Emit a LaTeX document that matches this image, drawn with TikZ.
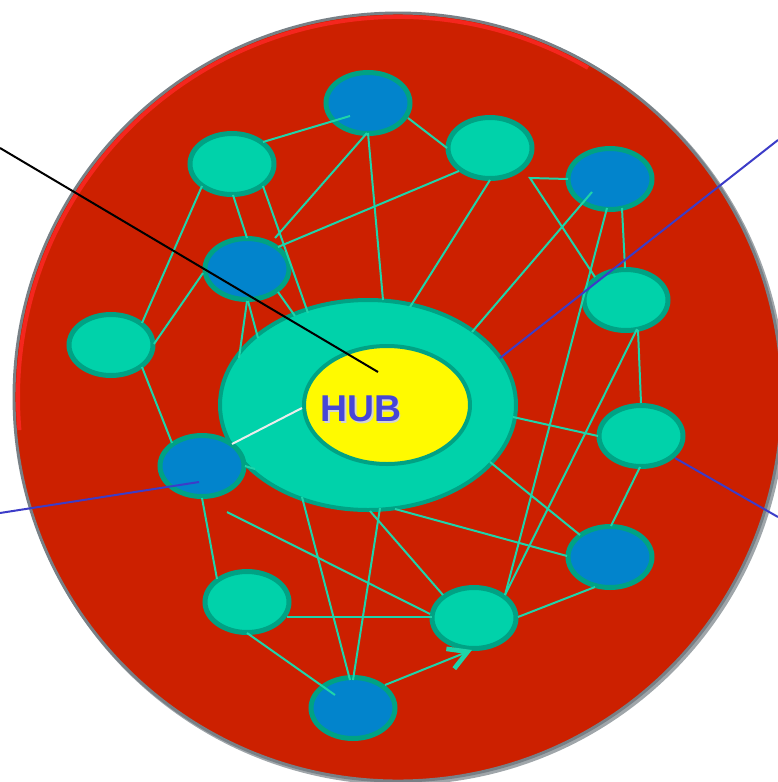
\documentclass[tikz,border=0pt]{standalone}
\usepackage{fontspec}
\setmainfont{Liberation Sans}
\usetikzlibrary{shapes.geometric,calc,arrows.meta}

\definecolor{discred}{RGB}{204,32,0}
\definecolor{discglow}{RGB}{245,38,30}
\definecolor{discrim}{RGB}{120,128,134}
\definecolor{nodegreen}{RGB}{0,210,170}
\definecolor{nodeblue}{RGB}{2,132,204}
\definecolor{rimteal}{RGB}{0,162,132}
\definecolor{linkteal}{RGB}{30,212,170}
\definecolor{hubyellow}{RGB}{255,250,0}
\definecolor{hubtext}{RGB}{70,70,214}
\definecolor{pointerblue}{RGB}{60,60,200}

\begin{document}
\begin{tikzpicture}[x=0.75pt,y=-0.75pt,
  peer/.style={ellipse, draw=rimteal, line width=3.75pt,
    minimum width=63pt, minimum height=45.75pt, inner sep=0pt},
  gnode/.style={peer, fill=nodegreen},
  bnode/.style={peer, fill=nodeblue},
  link/.style={draw=linkteal, line width=1.5pt},
  pointer/.style={line width=1.5pt},
]
\useasboundingbox (0,0) rectangle (778,782);

% the disc with its rim and glow
\fill[discrim!70] (400,399) circle (289.5pt);
\fill[discred] (398,397) circle (288pt);
\draw[discrim, line width=2.2pt] (398,397) circle (288pt);
\draw[discglow, line width=3pt] (398,397) ++(60:285pt)
  arc[start angle=60, end angle=185, radius=285pt];

% hub rings
\node[ellipse, fill=nodegreen, draw=rimteal, line width=3pt,
  minimum width=222pt, minimum height=157.5pt, inner sep=0pt] (hub) at (368,405) {};
\node[ellipse, fill=hubyellow, draw=rimteal, line width=3pt,
  minimum width=124.5pt, minimum height=88.5pt, inner sep=0pt] (core) at (387,405) {};
\node[text=gray!35, inner sep=0pt] (hubshadow) at (362.5,410.5) {\fontsize{28}{30}\selectfont\bfseries HUB};
\node[text=hubtext, inner sep=0pt] (hublabel) at (361,409) {\fontsize{28}{30}\selectfont\bfseries HUB};

% peers
\node[bnode] (b1)  at (368,103) {};
\node[gnode] (g2)  at (232,164) {};
\node[gnode] (g3)  at (490,148) {};
\node[bnode] (b4)  at (610,179) {};
\node[bnode] (b5)  at (247,269) {};
\node[gnode] (g6)  at (626,300) {};
\node[gnode] (g7)  at (111,345) {};
\node[gnode] (g8)  at (641,436) {};
\node[bnode] (b9)  at (202,466) {};
\node[bnode] (b10) at (610,557) {};
\node[gnode] (g11) at (247,602) {};
\node[gnode] (g12) at (474,618) {};
\node[bnode] (b13) at (353,708) {};

% free ends
\coordinate (kink)  at (530,178);
\coordinate (tailA) at (227,512);
\coordinate (ptrNW) at (0,148);
\coordinate (ptrNE) at (778,140);
\coordinate (ptrW)  at (0,513);
\coordinate (ptrE)  at (778,517);

% links
\draw[link] ($(g2)+(31,-22)$) -- ($(b1)+(-18,13)$);
\draw[link] ($(b1)+(-1,30)$) -- ($(b5)+(28,-31)$);
\draw[link] ($(b1)+(0,30)$) -- ($(hub)+(15,-105)$);
\draw[link] ($(g3)+(-31,23)$) -- ($(b5)+(31,-22)$);
\draw[link] ($(g2)+(-30,22)$) -- ($(g7)+(31,-22)$);
\draw[link] ($(g2)+(1,31)$) -- ($(b5)+(0,-31)$);
\draw[link] ($(g2)+(31,22)$) -- ($(hub)+(-60,-92)$);
\draw[link] ($(b5)+(-44,4)$) -- ($(g7)+(43,-1)$);
\draw[link] ($(b5)+(31,23)$) -- ($(hub)+(-73,-89)$);
\draw[link] ($(b5)+(0,32)$) -- ($(hub)+(-129,-47)$);
\draw[link] ($(b5)+(1,32)$) -- ($(hub)+(-110,-67)$);
\draw[link] ($(g7)+(31,22)$) -- ($(b9)+(-30,-23)$);
\draw[link] ($(b1)+(40,15)$) -- ($(g3)+(-43,0)$);
\draw[link] ($(g3)+(0,32)$) -- ($(hub)+(42,-98)$);
\draw[link] ($(b4)+(-18,13)$) -- ($(hub)+(104,-73)$);
\draw[link] ($(g6)+(-31,-23)$) -- (kink) -- ($(b4)+(-42,0)$);
\draw[link] ($(b4)+(-3,29)$) -- ($(g12)+(31,-23)$);
\draw[link] ($(b4)+(12,29)$) -- ($(g6)+(-1,-32)$);
\draw[link] ($(g6)+(11,29)$) -- ($(g12)+(31,-23)$);
\draw[link] ($(g6)+(12,30)$) -- ($(g8)+(0,-33)$);
\draw[link] ($(hub)+(145,12)$) -- ($(g8)+(-43,0)$);
\draw[link] ($(hub)+(122,57)$) -- ($(b10)+(-30,-22)$);
\draw[link] ($(g8)+(-1,31)$) -- ($(b10)+(1,-31)$);
\draw[link] ($(hub)+(27,104)$) -- ($(b10)+(-43,-1)$);
\draw[link] ($(g12)+(44,-1)$) -- ($(b10)+(-15,30)$);
\draw[link, -{Straight Barb[length=14pt, width=16pt, line width=3.5pt]}]
  ($(b13)+(32,-23)$) -- ($(g12)+(-2,32)$);
\draw[link] ($(hub)+(2,106)$) -- ($(g12)+(-31,-23)$);
\draw[link] (tailA) -- ($(g12)+(-44,-4)$);
\draw[link] ($(g11)+(40,15)$) -- ($(g12)+(-42,-1)$);
\draw[link] ($(b13)+(-3,-28)$) -- ($(hub)+(-66,92)$);
\draw[link] ($(b13)+(0,-28)$) -- ($(hub)+(12,103)$);
\draw[link] ($(g11)+(0,31)$) -- ($(b13)+(-18,-13)$);
\draw[link] ($(b9)+(0,32)$) -- ($(g11)+(-30,-23)$);
\draw[link] ($(b9)+(43,0)$) -- ($(hub)+(-113,64)$);
\draw[draw=gray!15, line width=1.5pt] ($(b9)+(30,-22)$) -- ($(core)+(-85,3)$);

% pointers
\draw[pointer, black] (ptrNW) -- ($(core)+(-9,-33)$);
\draw[pointer, pointerblue] (ptrNE) -- ($(hub)+(132,-47)$);
\draw[pointer, pointerblue] (ptrW) -- ($(b9)+(-3,16)$);
\draw[pointer, pointerblue] ($(g8)+(34,22)$) -- (ptrE);
\end{tikzpicture}
\end{document}
